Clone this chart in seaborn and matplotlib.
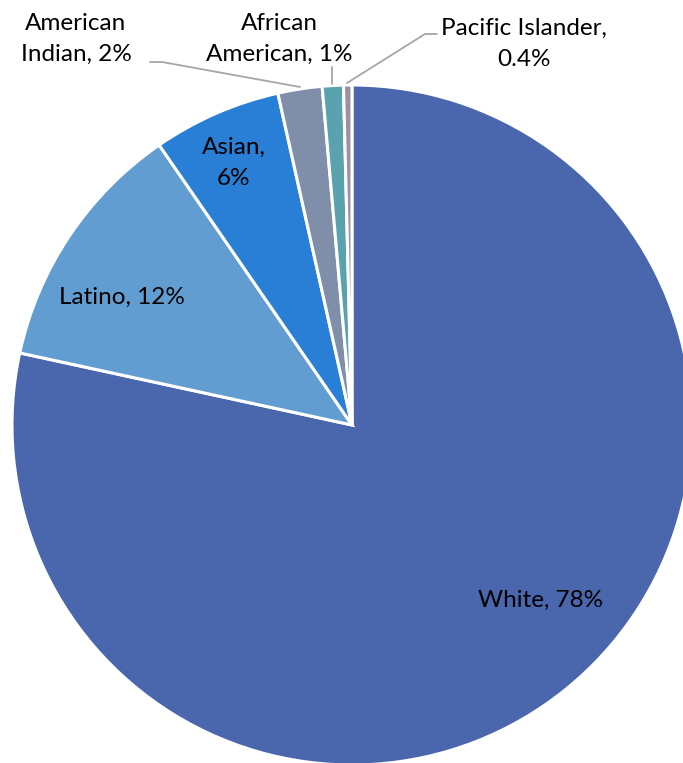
import seaborn as sns
import matplotlib.pyplot as plt

sns.set_theme(style="white")
plt.rcParams['font.family'] = ['Lato', 'DejaVu Sans']

# shares of each group (percent)
groups = ['White', 'Latino', 'Asian', 'American Indian', 'African American', 'Pacific Islander']
shares = [78.4, 12.0, 6.1, 2.1, 1.0, 0.4]
labels = ['White, 78%', 'Latino, 12%', 'Asian,\n6%', 'American\nIndian, 2%',
          'African\nAmerican, 1%', 'Pacific Islander,\n0.4%']
colors = ['#4a66ac', '#629dd1', '#297fd5', '#7f8fa9', '#5aa2ae', '#9d90a0']

fig = plt.figure(figsize=(6.83, 7.63), dpi=100)
ax = fig.add_axes([0, 0, 1, 1])

wedges, _ = ax.pie(shares, colors=colors, startangle=90, counterclock=False,
                   radius=1, wedgeprops=dict(edgecolor='white', linewidth=2.2))

# 340 px per unit, centre at (352, 425) px from top-left
ax.set_xlim(-352 / 340, (683 - 352) / 340)
ax.set_ylim(-(763 - 425) / 340, 425 / 340)
ax.set_aspect('auto')
ax.axis('off')

def px(x, y):
    return (x - 352) / 340, (425 - y) / 340

# label positions (px)
label_pos = [(541, 600), (122, 297), (234, 163), (76, 39), (279, 39), (524, 44)]
for lab, (x, y) in zip(labels, label_pos):
    ax.text(*px(x, y), lab, ha='center', va='center', fontsize=17.5,
            color='black', linespacing=1.55)

# leader lines
line_kw = dict(color='#a6a6a6', linewidth=1.3)
for pts in [[(150, 62), (162, 62), (300, 87)],
            [(332, 67), (332, 84)],
            [(347, 83), (425, 34), (437, 34)]]:
    xs, ys = zip(*[px(x, y) for x, y in pts])
    ax.plot(xs, ys, **line_kw)

fig.savefig('out.png', dpi=100)
